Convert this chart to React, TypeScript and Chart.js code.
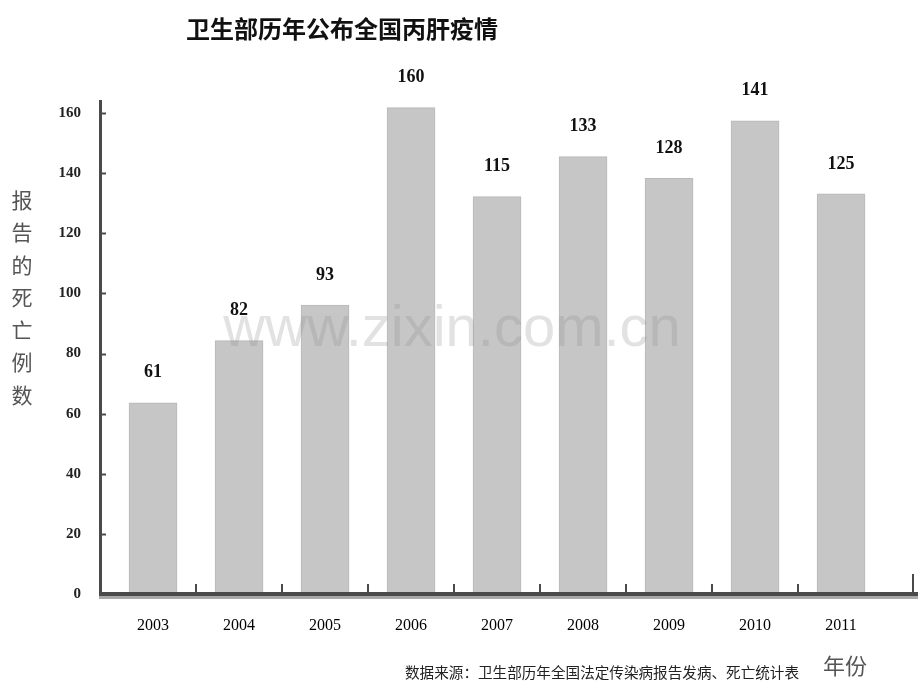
import React, { useEffect, useRef } from "react";
import { Chart, registerables } from "chart.js";

Chart.register(...registerables);

const titleText = "卫生部历年公布全国丙肝疫情";
const yAxisTitle = "报告的死亡例数";
const xAxisTitle = "年份";
const sourceText = "数据来源：卫生部历年全国法定传染病报告发病、死亡统计表";
const watermarkText = "www.zixin.com.cn";

const years = [2003, 2004, 2005, 2006, 2007, 2008, 2009, 2010, 2011];
// bar heights as drawn in the picture
const barValues = [63.6, 84.3, 96.1, 161.8, 132.2, 145.5, 138.3, 157.4, 133.1];
// numbers printed above the bars
const labelValues = [61, 82, 93, 160, 115, 133, 128, 141, 125];
const yTicks = [0, 20, 40, 60, 80, 100, 120, 140, 160];

const SERIF = "'Liberation Serif', 'DejaVu Serif', serif";
const CJK = "'Noto Sans CJK SC', 'Noto Sans', sans-serif";

const extrasPlugin = {
  id: "extras",
  afterDatasetsDraw(chart: any) {
    const ctx = chart.ctx;
    const meta = chart.getDatasetMeta(0);
    ctx.save();
    ctx.fillStyle = "#111";
    ctx.font = `bold 18px ${SERIF}`;
    ctx.textAlign = "center";
    ctx.textBaseline = "middle";
    meta.data.forEach((el: any, i: number) => {
      ctx.fillText(String(labelValues[i]), el.x, el.y - 30);
    });
    // watermark
    ctx.fillStyle = "rgba(140,140,140,0.25)";
    ctx.font = `58px 'Liberation Sans', Arial, sans-serif`;
    ctx.textAlign = "center";
    ctx.textBaseline = "alphabetic";
    ctx.fillText(watermarkText, 452, 346);
    ctx.restore();
  },
  afterDraw(chart: any) {
    const ctx = chart.ctx;
    const area = chart.chartArea;
    const xs = chart.scales.x;
    const ys = chart.scales.y;
    ctx.save();
    // x axis shadow and line
    ctx.fillStyle = "#a8a8a8";
    ctx.fillRect(area.left - 2, area.bottom + 2, area.right - area.left + 2, 3);
    ctx.fillStyle = "#4a4a4a";
    ctx.fillRect(area.left - 2, area.bottom - 2, area.right - area.left + 2, 4);
    // y axis
    ctx.fillRect(area.left - 2, area.top - 1, 3, area.bottom - area.top + 3);
    // y tick marks
    ctx.strokeStyle = "#4a4a4a";
    ctx.lineWidth = 2;
    yTicks.forEach((v) => {
      if (v === 0) return;
      const y = Math.round(ys.getPixelForValue(v)) + 0.5;
      ctx.beginPath();
      ctx.moveTo(area.left, y);
      ctx.lineTo(area.left + 5, y);
      ctx.stroke();
    });
    // x tick marks between bars
    for (let i = 0; i < years.length - 1; i++) {
      const x = Math.round(xs.getPixelForValue(years[i] + 0.5));
      ctx.beginPath();
      ctx.moveTo(x, area.bottom - 2);
      ctx.lineTo(x, area.bottom - 10);
      ctx.stroke();
    }
    ctx.beginPath();
    ctx.moveTo(area.right - 5, area.bottom - 2);
    ctx.lineTo(area.right - 5, area.bottom - 20);
    ctx.stroke();

    // title
    ctx.fillStyle = "#111";
    ctx.font = `bold 24px ${CJK}`;
    ctx.textAlign = "center";
    ctx.textBaseline = "middle";
    ctx.fillText(titleText, 342, 29);

    // vertical y axis title
    ctx.fillStyle = "#555";
    ctx.font = `21px ${CJK}`;
    const chars = Array.from(yAxisTitle);
    chars.forEach((c, i) => {
      ctx.fillText(c, 22, 200 + i * 32.5);
    });

    // x axis title
    ctx.fillStyle = "#555";
    ctx.font = `22px ${CJK}`;
    ctx.fillText(xAxisTitle, 845, 666);

    // source
    ctx.fillStyle = "#222";
    ctx.font = `14.6px ${CJK}`;
    ctx.textAlign = "left";
    ctx.fillText(sourceText, 405, 672);
    ctx.restore();
  },
};

export default function App() {
  const ref = useRef<HTMLCanvasElement | null>(null);
  useEffect(() => {
    if (!ref.current) return;
    const chart = new Chart(ref.current, {
      type: "bar",
      data: {
        datasets: [
          {
            data: years.map((y, i) => ({ x: y, y: barValues[i] })),
            backgroundColor: "#c6c6c6",
            borderColor: "#b9b9b9",
            borderWidth: 1,
            barThickness: 48,
          },
        ],
      },
      options: {
        animation: false,
        responsive: false,
        maintainAspectRatio: false,
        layout: { padding: { top: 101, right: 2, left: 0, bottom: 0 } },
        plugins: { legend: { display: false }, tooltip: { enabled: false }, title: { display: false } },
        scales: {
          x: {
            type: "linear",
            offset: false,
            min: 2002.395,
            max: 2011.895,
            grid: { display: false, drawTicks: false, offset: false },
            border: { display: false },
            afterBuildTicks: (s: any) => {
              s.ticks = years.map((v) => ({ value: v }));
            },
            afterFit: (s: any) => {
              s.height = 96;
            },
            ticks: {
              autoSkip: false,
              maxRotation: 0,
              padding: 22,
              color: "#000",
              font: { family: SERIF, size: 16 },
              callback: (v: any) => String(v),
            },
          },
          y: {
            min: 0,
            max: 164,
            grid: { display: false, drawTicks: false },
            border: { display: false },
            afterBuildTicks: (s: any) => {
              s.ticks = yTicks.map((v) => ({ value: v }));
            },
            afterFit: (s: any) => {
              s.width = 101;
            },
            ticks: {
              padding: 20,
              color: "#222",
              font: { family: SERIF, size: 15, weight: "bold" },
            },
          },
        },
      } as any,
      plugins: [extrasPlugin],
    });
    return () => chart.destroy();
  }, []);
  return (
    <div style={{ position: "fixed", left: 0, top: 0, width: 920, height: 690, background: "#fff" }}>
      <canvas ref={ref} width={920} height={690} style={{ display: "block" }} />
    </div>
  );
}
